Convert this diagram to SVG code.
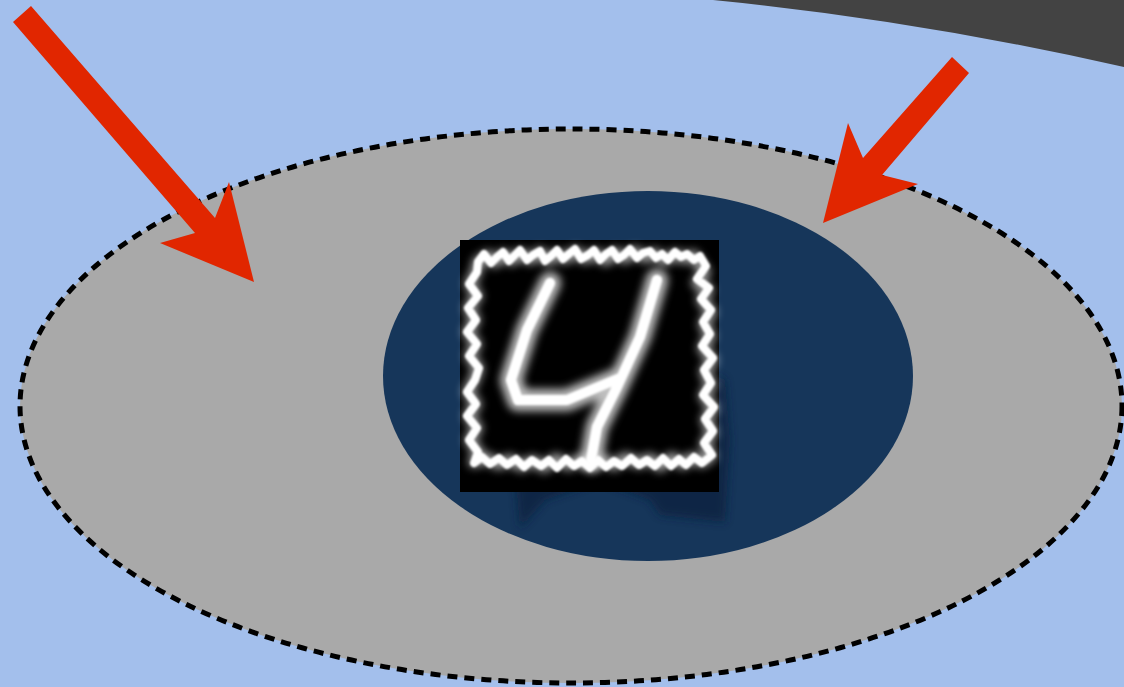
<svg xmlns="http://www.w3.org/2000/svg" width="1124" height="687" viewBox="0 0 1124 687">
<style>
.arrow{fill:#e12600}
.frame{fill:none;stroke:#ffffff;stroke-linejoin:round}
.digit{fill:none;stroke:#ffffff;stroke-linecap:round;stroke-linejoin:round}
</style>
<defs>
<filter id="soft" x="-10%" y="-10%" width="120%" height="120%"><feGaussianBlur stdDeviation="1.2"/></filter>
<filter id="glow" x="-20%" y="-20%" width="140%" height="140%"><feGaussianBlur stdDeviation="4"/></filter>
<filter id="shadow" x="-20%" y="-20%" width="140%" height="140%"><feGaussianBlur stdDeviation="4"/></filter>
</defs>
<rect width="1124" height="687" fill="#a3bfec"/>
<path d="M713,0 Q917,20 1124,67 L1124,0 Z" fill="#434343"/>
<g id="outer">
<ellipse cx="571" cy="406" rx="551" ry="277" fill="#a9a9a9" stroke="#000" stroke-width="5" stroke-dasharray="10,7"/>
</g>
<g id="inner">
<ellipse cx="648" cy="376" rx="265" ry="185" fill="#16365a"/>
</g>
<g id="digit">
<path d="M515,470 L520,528 L545,500 L600,480 L650,500 L660,515 L725,522 L730,440 L725,380 L715,375 L712,470 Z" fill="#0c2340" opacity="0.8" filter="url(#shadow)"/>
<rect x="460" y="240" width="259" height="252" fill="#000"/>
<polygon class="frame" style="stroke-width:12" opacity="0.6" filter="url(#glow)" points="478,262 488,256 495,262 503,255 512,260 520,254 530,259 540,253 548,260 556,255 566,258 575,252 585,258 596,254 606,260 615,253 625,258 634,252 645,257 655,254 664,260 675,255 684,258 694,256 700,265 705,272 697,283 708,290 702,300 711,312 704,324 710,336 703,348 712,360 705,372 711,385 704,396 713,408 706,420 712,432 705,444 711,456 702,462 692,458 683,464 672,458 660,466 650,459 638,463 626,458 614,465 603,460 592,466 580,460 568,465 556,459 544,467 533,461 521,466 510,460 498,464 486,458 474,462 478,452 470,440 477,428 469,416 476,404 468,392 474,380 478,368 470,356 476,344 468,332 475,320 469,308 477,296 470,284 476,272"/>
<polygon class="frame" style="stroke-width:8" filter="url(#soft)" points="478,262 484,254 491,263 497,257 503,252 509,261 514,256 520,250 527,260 533,255 540,251 545,261 551,256 557,250 563,259 570,253 575,249 581,259 588,255 594,250 600,260 606,254 612,250 618,259 624,255 630,249 637,258 643,253 650,251 656,258 662,254 668,260 675,252 681,257 687,254 694,260 700,256 706,266 697,279 709,288 701,299 711,310 703,322 710,334 702,346 713,358 704,370 711,383 703,395 714,407 705,419 713,431 704,443 712,455 702,463 694,457 686,465 679,459 671,466 663,458 655,466 647,460 639,465 631,458 622,466 614,461 606,467 598,460 590,468 582,461 574,466 566,459 557,468 549,460 541,466 532,460 524,467 516,459 507,465 499,458 490,464 482,457 474,463 478,452 469,440 477,428 467,416 476,404 467,392 475,380 479,368 469,356 477,344 467,332 476,320 468,308 478,296 469,284 477,272"/>
<path class="digit" style="stroke-width:22" filter="url(#glow)" opacity="0.75" d="M550,283 L527,330 L511,380 L518,400 L567,400 L620,378 M657,280 L640,337 L617,387 L597,427 L591,460"/>
<path class="digit" style="stroke-width:10" filter="url(#soft)" d="M550,283 L527,330 L511,380 L518,400 L567,400 L620,378 M657,280 L640,337 L617,387 L597,427 L591,460"/>
</g>
<g id="connectors">
<polygon class="arrow" points="13,22 31,6 215,218 229,182 254,282 160,243 195,233"/>
<polygon class="arrow" points="952,57 969,73 882,175 918,184 823,223 848,123 863,158"/>
</g>
</svg>
